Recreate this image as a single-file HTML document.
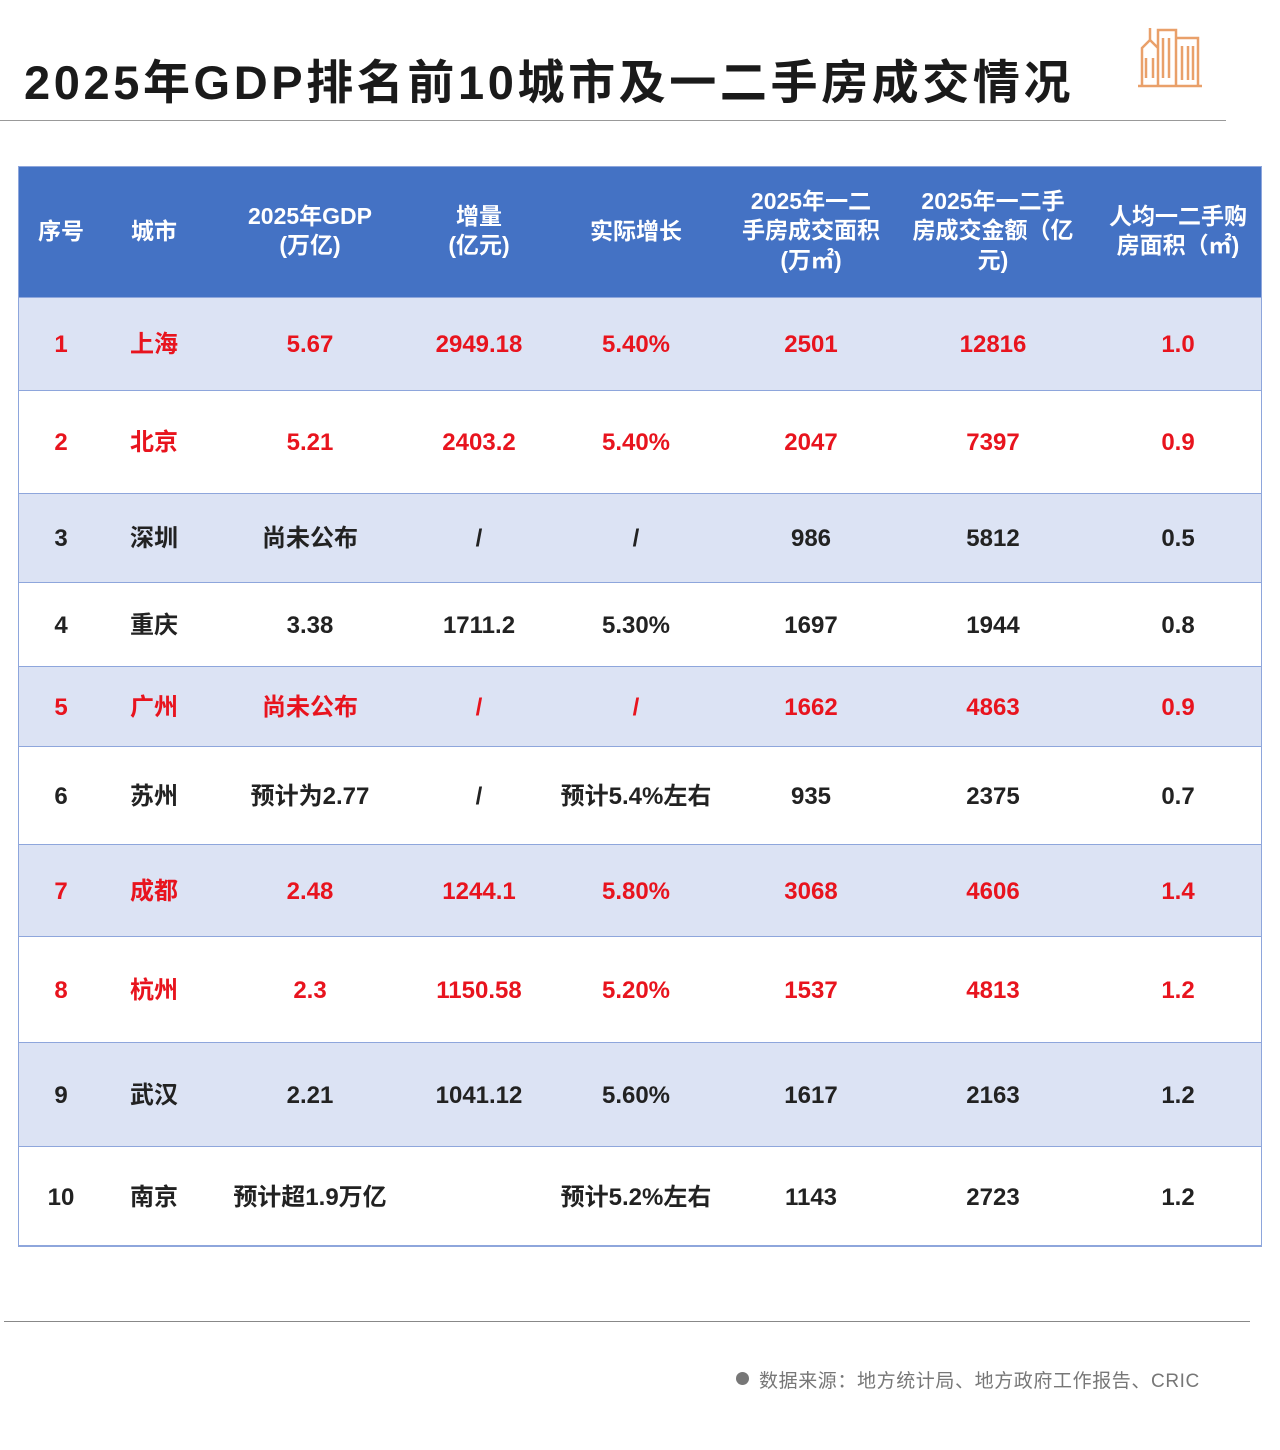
<!DOCTYPE html>
<html><head><meta charset="utf-8"><style>
body{margin:0;width:1280px;height:1450px;background:#fff;position:relative;overflow:hidden;font-family:"Liberation Sans","Noto Sans CJK SC",sans-serif}
.t{position:absolute;left:24px;top:44px;font-size:47px;font-weight:bold;color:#1a1a1a;letter-spacing:3.6px;white-space:nowrap}
.hr{position:absolute;height:1px;background:#999}
.tbl{position:absolute;left:18px;top:166px;width:1244px;height:1080px;border:1px solid #8ea6dc;box-sizing:border-box}
.row{position:absolute;left:18px;width:1244px;border-bottom:1px solid #8ea6dc;box-sizing:border-box}
.c{position:absolute;top:50%;transform:translate(-50%,-46%);text-align:center;font-size:24px;font-weight:bold;white-space:nowrap;line-height:1.2}
.h .c{color:#fff;font-size:23px;line-height:1.3;transform:translate(-50%,-50%)}
.red .c{color:#e8141e}
.n .c{color:#222}
</style></head><body>
<div class="t">2025年GDP排名前10城市及一二手房成交情况</div>
<svg style="position:absolute;left:1136px;top:18px" width="68" height="70" viewBox="0 0 68 70" fill="none" stroke="#e9a06a" stroke-width="2.5">
<path d="M2 68H66M6 68V30L14 22V10M14 22L22 30V68M22 68V12H40V68M40 20H62V68"/>
<path d="M27 20v40M33 20v40M46 28v34M52 28v34M57 28v34M10 40v20M17 40v20"/>
</svg>
<div class="hr" style="left:0;top:120px;width:1226px"></div>
<div class="row h" style="top:166px;height:132px;background:#4472c4">
<div class="c" style="left:43px">序号</div><div class="c" style="left:136px">城市</div>
<div class="c" style="left:292px">2025年GDP<br>(万亿)</div><div class="c" style="left:461px">增量<br>(亿元)</div>
<div class="c" style="left:618px">实际增长</div><div class="c" style="left:793px">2025年一二<br>手房成交面积<br>(万㎡)</div>
<div class="c" style="left:975px">2025年一二手<br>房成交金额（亿<br>元)</div><div class="c" style="left:1160px">人均一二手购<br>房面积（㎡)</div>
</div>
<div class="row red" style="top:298px;height:93px;background:#dce3f4"><div class="c" style="left:43px">1</div><div class="c" style="left:136px">上海</div><div class="c" style="left:292px">5.67</div><div class="c" style="left:461px">2949.18</div><div class="c" style="left:618px">5.40%</div><div class="c" style="left:793px">2501</div><div class="c" style="left:975px">12816</div><div class="c" style="left:1160px">1.0</div></div>
<div class="row red" style="top:391px;height:103px;background:#fff"><div class="c" style="left:43px">2</div><div class="c" style="left:136px">北京</div><div class="c" style="left:292px">5.21</div><div class="c" style="left:461px">2403.2</div><div class="c" style="left:618px">5.40%</div><div class="c" style="left:793px">2047</div><div class="c" style="left:975px">7397</div><div class="c" style="left:1160px">0.9</div></div>
<div class="row n" style="top:494px;height:89px;background:#dce3f4"><div class="c" style="left:43px">3</div><div class="c" style="left:136px">深圳</div><div class="c" style="left:292px">尚未公布</div><div class="c" style="left:461px">/</div><div class="c" style="left:618px">/</div><div class="c" style="left:793px">986</div><div class="c" style="left:975px">5812</div><div class="c" style="left:1160px">0.5</div></div>
<div class="row n" style="top:583px;height:84px;background:#fff"><div class="c" style="left:43px">4</div><div class="c" style="left:136px">重庆</div><div class="c" style="left:292px">3.38</div><div class="c" style="left:461px">1711.2</div><div class="c" style="left:618px">5.30%</div><div class="c" style="left:793px">1697</div><div class="c" style="left:975px">1944</div><div class="c" style="left:1160px">0.8</div></div>
<div class="row red" style="top:667px;height:80px;background:#dce3f4"><div class="c" style="left:43px">5</div><div class="c" style="left:136px">广州</div><div class="c" style="left:292px">尚未公布</div><div class="c" style="left:461px">/</div><div class="c" style="left:618px">/</div><div class="c" style="left:793px">1662</div><div class="c" style="left:975px">4863</div><div class="c" style="left:1160px">0.9</div></div>
<div class="row n" style="top:747px;height:98px;background:#fff"><div class="c" style="left:43px">6</div><div class="c" style="left:136px">苏州</div><div class="c" style="left:292px">预计为2.77</div><div class="c" style="left:461px">/</div><div class="c" style="left:618px">预计5.4%左右</div><div class="c" style="left:793px">935</div><div class="c" style="left:975px">2375</div><div class="c" style="left:1160px">0.7</div></div>
<div class="row red" style="top:845px;height:92px;background:#dce3f4"><div class="c" style="left:43px">7</div><div class="c" style="left:136px">成都</div><div class="c" style="left:292px">2.48</div><div class="c" style="left:461px">1244.1</div><div class="c" style="left:618px">5.80%</div><div class="c" style="left:793px">3068</div><div class="c" style="left:975px">4606</div><div class="c" style="left:1160px">1.4</div></div>
<div class="row red" style="top:937px;height:106px;background:#fff"><div class="c" style="left:43px">8</div><div class="c" style="left:136px">杭州</div><div class="c" style="left:292px">2.3</div><div class="c" style="left:461px">1150.58</div><div class="c" style="left:618px">5.20%</div><div class="c" style="left:793px">1537</div><div class="c" style="left:975px">4813</div><div class="c" style="left:1160px">1.2</div></div>
<div class="row n" style="top:1043px;height:104px;background:#dce3f4"><div class="c" style="left:43px">9</div><div class="c" style="left:136px">武汉</div><div class="c" style="left:292px">2.21</div><div class="c" style="left:461px">1041.12</div><div class="c" style="left:618px">5.60%</div><div class="c" style="left:793px">1617</div><div class="c" style="left:975px">2163</div><div class="c" style="left:1160px">1.2</div></div>
<div class="row n" style="top:1147px;height:100px;background:#fff"><div class="c" style="left:43px">10</div><div class="c" style="left:136px">南京</div><div class="c" style="left:292px">预计超1.9万亿</div><div class="c" style="left:618px">预计5.2%左右</div><div class="c" style="left:793px">1143</div><div class="c" style="left:975px">2723</div><div class="c" style="left:1160px">1.2</div></div>
<div class="tbl"></div>
<div class="hr" style="left:4px;top:1321px;width:1246px;background:#888"></div>
<div style="position:absolute;left:736px;top:1372px;width:13px;height:13px;border-radius:50%;background:#777"></div>
<div style="position:absolute;left:759px;top:1366px;font-size:19px;color:#777;white-space:nowrap;letter-spacing:0.6px">数据来源：地方统计局、地方政府工作报告、CRIC</div>
</body></html>
